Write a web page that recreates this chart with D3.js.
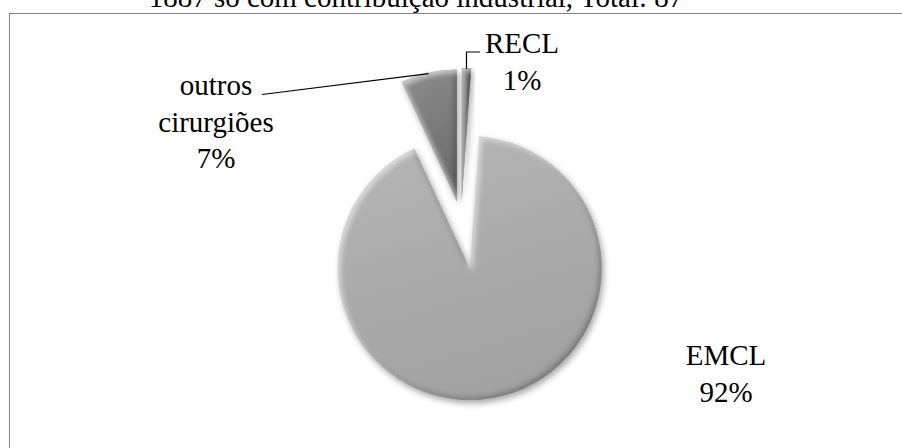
<!DOCTYPE html>
<html>
<head>
<meta charset="utf-8">
<script src="https://cdn.jsdelivr.net/npm/d3@7"></script>
<style>
  html, body { margin: 0; padding: 0; background: #fff; overflow: hidden; }
  #wrap { position: relative; width: 902px; height: 448px; }
  #wrap svg { position: absolute; left: 0; top: 0; }
</style>
</head>
<body>
<div id="wrap">
  <svg id="marks" width="902" height="448"></svg>
  <svg id="labels" width="902" height="448"></svg>
</div>
<script>
// Contributors to the 1887 industrial tax, by group
const categories = ["RECL", "EMCL", "outros cirurgiões"];
const values = [1, 80, 6];
const titleText = "1887 só com contribuição industrial, Total: 87";

const W = 902, H = 448;
const svg = d3.select("#marks");
const txt = d3.select("#labels");
const total = d3.sum(values);
const pct = d3.format(".0%");

// Per-slice look: fill shade and how far the slice is pulled out
const sliceStyle = {
  "RECL": { top: "#707070", bottom: "#4a4a4a", explode: 20 },
  "EMCL": { top: "#b6b6b6", bottom: "#a2a2a2", explode: 49 },
  "outros cirurgiões": { top: "#8e8e8e", bottom: "#6c6c6c", explode: 19 }
};

const cx = 461, cy = 220, radius = 132;

const defs = svg.append("defs");

// Soft bevel + drop shadow on each slice
const f = defs.append("filter").attr("id", "bevel")
  .attr("x", "-30%").attr("y", "-30%").attr("width", "160%").attr("height", "160%");
f.append("feGaussianBlur").attr("in", "SourceAlpha").attr("stdDeviation", 3).attr("result", "sb");
f.append("feOffset").attr("in", "sb").attr("dx", 2).attr("dy", 3).attr("result", "sbo");
f.append("feFlood").attr("flood-color", "#000").attr("flood-opacity", 0.35).attr("result", "sc");
f.append("feComposite").attr("in", "sc").attr("in2", "sbo").attr("operator", "in").attr("result", "shadow");

f.append("feGaussianBlur").attr("in", "SourceAlpha").attr("stdDeviation", 2.5).attr("result", "eb");
f.append("feOffset").attr("in", "eb").attr("dx", -3).attr("dy", -3).attr("result", "ebUL");
f.append("feComposite").attr("in", "SourceAlpha").attr("in2", "ebUL").attr("operator", "out").attr("result", "edgeBR");
f.append("feFlood").attr("flood-color", "#000").attr("flood-opacity", 0.45).attr("result", "dc");
f.append("feComposite").attr("in", "dc").attr("in2", "edgeBR").attr("operator", "in").attr("result", "dark");

f.append("feOffset").attr("in", "eb").attr("dx", 3).attr("dy", 3).attr("result", "ebDR");
f.append("feComposite").attr("in", "SourceAlpha").attr("in2", "ebDR").attr("operator", "out").attr("result", "edgeTL");
f.append("feFlood").attr("flood-color", "#fff").attr("flood-opacity", 0.45).attr("result", "lc");
f.append("feComposite").attr("in", "lc").attr("in2", "edgeTL").attr("operator", "in").attr("result", "light");

const m = f.append("feMerge");
["shadow", "SourceGraphic", "dark", "light"].forEach(n => m.append("feMergeNode").attr("in", n));

categories.forEach((c, i) => {
  const g = defs.append("linearGradient").attr("id", "grad" + i)
    .attr("x1", 0).attr("y1", 0).attr("x2", 0.3).attr("y2", 1);
  g.append("stop").attr("offset", 0).attr("stop-color", sliceStyle[c].top);
  g.append("stop").attr("offset", 1).attr("stop-color", sliceStyle[c].bottom);
});

// Chart frame
svg.append("rect")
  .attr("x", 9.5).attr("y", 13.5).attr("width", W + 20).attr("height", H + 20)
  .attr("fill", "none").attr("stroke", "#858585").attr("stroke-width", 1);

const pie = d3.pie().sort(null).value(d => d);
const arcs = pie(values);
const arc = d3.arc().innerRadius(0).outerRadius(radius);

function offset(d, e) {
  const a = (d.startAngle + d.endAngle) / 2;
  return [Math.sin(a) * e, -Math.cos(a) * e];
}

const sliceG = svg.append("g").attr("transform", `translate(${cx},${cy})`);
sliceG.selectAll("path")
  .data(arcs)
  .join("path")
  .attr("d", arc)
  .attr("transform", (d, i) => {
    const [dx, dy] = offset(d, sliceStyle[categories[i]].explode);
    return `translate(${dx},${dy})`;
  })
  .attr("fill", (d, i) => `url(#grad${i})`)
  .attr("filter", "url(#bevel)");

// Point on the outer rim at the middle of a slice (in page coordinates)
function rimMid(i) {
  const d = arcs[i];
  const a = (d.startAngle + d.endAngle) / 2;
  const [dx, dy] = offset(d, sliceStyle[categories[i]].explode);
  return [cx + dx + Math.sin(a) * radius, cy + dy - Math.cos(a) * radius];
}

// Leader lines
const recl = rimMid(0);
svg.append("path")
  .attr("d", d3.line()([[recl[0], recl[1] + 1], [recl[0], 52], [480, 52]]))
  .attr("fill", "none").attr("stroke", "#000").attr("stroke-width", 1.2);

const outros = rimMid(2);
svg.append("path")
  .attr("d", d3.line()([[outros[0], outros[1] + 1], [262, 94.5]]))
  .attr("fill", "none").attr("stroke", "#000").attr("stroke-width", 1.2);

// Text layer: centred multi-line blocks
function textBlock(x, y, lines, gap) {
  const t = txt.append("text")
    .attr("x", x).attr("y", y)
    .attr("text-anchor", "middle")
    .style("font-family", '"Liberation Serif"')
    .attr("font-size", 29);
  lines.forEach((ln, k) => {
    t.append("tspan").attr("x", x).attr("y", y + k * gap).text(ln);
  });
  return t;
}

// Title (runs off the top edge of the frame area)
textBlock(416, 7, [titleText], 0);

const labelPos = {
  "RECL": { x: 522, y: 53, lines: ["RECL"] },
  "EMCL": { x: 726, y: 365, lines: ["EMCL"] },
  "outros cirurgiões": { x: 216, y: 95, lines: ["outros", "cirurgiões"] }
};

categories.forEach((c, i) => {
  const p = labelPos[c];
  textBlock(p.x, p.y, p.lines.concat([pct(values[i] / total)]), 36.5);
});
</script>
</body>
</html>
